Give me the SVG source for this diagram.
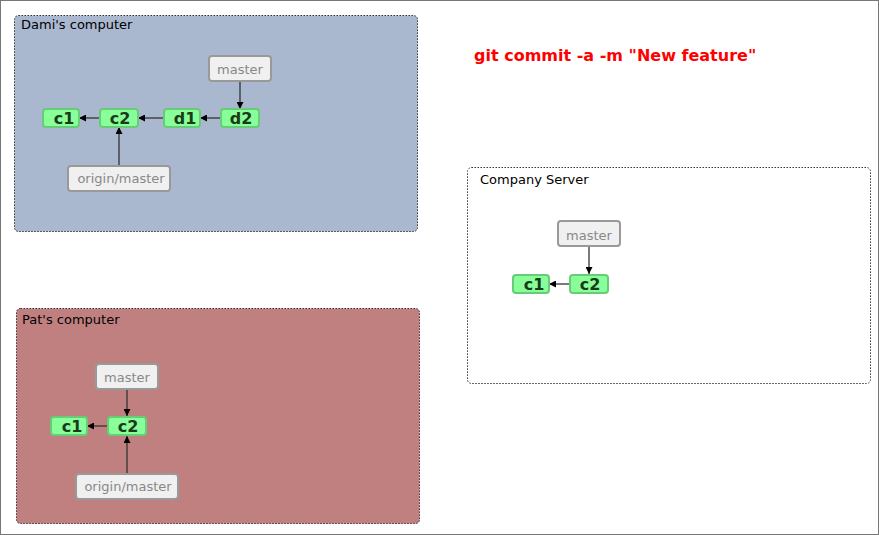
<svg xmlns="http://www.w3.org/2000/svg" width="879" height="535" viewBox="0 0 879 535">
<style>
.box{stroke:#333;stroke-width:1;stroke-dasharray:1.5,1.5}
.blabel{font-family:"DejaVu Sans",sans-serif;font-size:13px;fill:#000}
.commit rect{fill:#88ff99;stroke:#66cc77;stroke-width:2}
.commit text{font-family:"DejaVu Sans",sans-serif;font-size:16px;font-weight:bold;fill:#1a3a1a;text-anchor:middle}
.ref rect{fill:#f0f0f0;stroke:#999;stroke-width:2}
.ref text{font-family:"DejaVu Sans",sans-serif;font-size:13px;fill:#888;text-anchor:middle}
.conn line{stroke:#333;stroke-width:1.3;marker-end:url(#arr)}
</style>
<defs>
<marker id="arr" viewBox="0 0 10 10" refX="10" refY="5" markerWidth="7" markerHeight="7" markerUnits="userSpaceOnUse" orient="auto">
<path d="M0,0 L10,5 L0,10 z" fill="#000"/>
</marker>
</defs>
<rect x="0.5" y="0.5" width="878" height="534" fill="#fff" stroke="#777"/>
<g id="dami">
<rect class="box" x="14.5" y="15.5" width="403" height="216" rx="4" fill="#a9b8cf"/>
<text class="blabel" x="21" y="29">Dami's computer</text>
</g>
<g id="server">
<rect class="box" x="467.5" y="167.5" width="403" height="216" rx="4" fill="#fff"/>
<text class="blabel" x="480" y="184">Company Server</text>
</g>
<g id="pat">
<rect class="box" x="16.5" y="308.5" width="403" height="215" rx="4" fill="#c08080"/>
<text class="blabel" x="22" y="324">Pat's computer</text>
</g>
<text x="474" y="61" font-family="DejaVu Sans,sans-serif" font-size="16" font-weight="bold" fill="#ff0000">git commit -a -m "New feature"</text>
<g id="connectors" class="conn">
<line x1="100" y1="118" x2="79" y2="118"/>
<line x1="164" y1="118" x2="138" y2="118"/>
<line x1="221" y1="118" x2="200" y2="118"/>
<line x1="240" y1="81" x2="240" y2="109"/>
<line x1="119" y1="166" x2="119" y2="127"/>
<line x1="570" y1="284" x2="549" y2="284"/>
<line x1="589" y1="247" x2="589" y2="274"/>
<line x1="108" y1="426" x2="87" y2="426"/>
<line x1="127" y1="389" x2="127" y2="416"/>
<line x1="127" y1="474" x2="127" y2="436"/>
</g>
<g id="dami_c1" class="commit"><rect x="43" y="109" width="36" height="18" rx="3"/><text x="64" y="124">c1</text></g>
<g id="dami_c2" class="commit"><rect x="100" y="109" width="38" height="18" rx="3"/><text x="120" y="124">c2</text></g>
<g id="dami_d1" class="commit"><rect x="164" y="109" width="36" height="18" rx="3"/><text x="185" y="124">d1</text></g>
<g id="dami_d2" class="commit"><rect x="221" y="109" width="38" height="18" rx="3"/><text x="241" y="124">d2</text></g>
<g id="dami_master" class="ref"><rect x="209" y="56" width="62" height="25" rx="3"/><text x="240" y="74">master</text></g>
<g id="dami_origin" class="ref"><rect x="68" y="166" width="102" height="25" rx="3"/><text x="121" y="183">origin/master</text></g>
<g id="srv_c1" class="commit"><rect x="513" y="275" width="36" height="18" rx="3"/><text x="534" y="290">c1</text></g>
<g id="srv_c2" class="commit"><rect x="570" y="275" width="38" height="18" rx="3"/><text x="590" y="290">c2</text></g>
<g id="srv_master" class="ref"><rect x="558" y="221" width="62" height="25" rx="3"/><text x="589" y="240">master</text></g>
<g id="pat_c1" class="commit"><rect x="51" y="417" width="36" height="18" rx="3"/><text x="72" y="432">c1</text></g>
<g id="pat_c2" class="commit"><rect x="108" y="417" width="38" height="18" rx="3"/><text x="128" y="432">c2</text></g>
<g id="pat_master" class="ref"><rect x="96" y="364" width="62" height="25" rx="3"/><text x="127" y="382">master</text></g>
<g id="pat_origin" class="ref"><rect x="76" y="474" width="102" height="25" rx="3"/><text x="128" y="491">origin/master</text></g>
</svg>
